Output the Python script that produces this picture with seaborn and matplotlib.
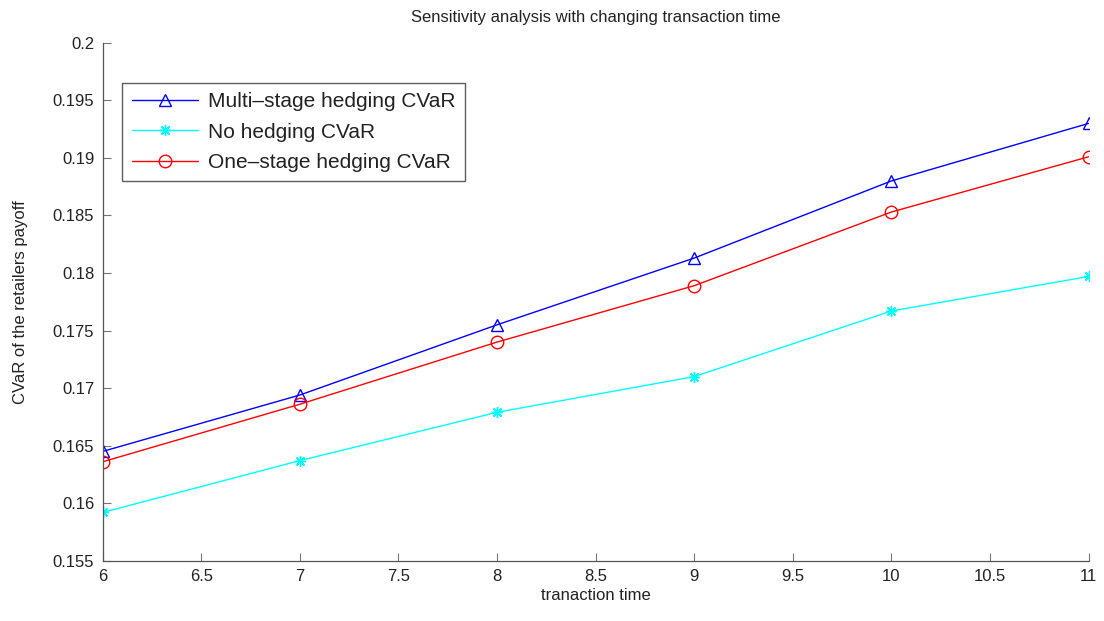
import matplotlib
matplotlib.use("Agg")
import matplotlib.pyplot as plt
import seaborn as sns
import pandas as pd

# Transaction time and CVaR of the retailer's payoff for each hedging strategy
transaction_time = [6, 7, 8, 9, 10, 11]
multi_stage_cvar = [0.1645, 0.1694, 0.1755, 0.1813, 0.1880, 0.1930]
no_hedging_cvar = [0.1592, 0.1637, 0.1679, 0.1710, 0.1767, 0.1797]
one_stage_cvar = [0.1636, 0.1686, 0.1740, 0.1789, 0.1853, 0.1901]

series_names = ["Multi\u2013stage hedging CVaR", "No hedging CVaR", "One\u2013stage hedging CVaR"]
x_ticks = [6, 6.5, 7, 7.5, 8, 8.5, 9, 9.5, 10, 10.5, 11]
y_ticks = [0.155, 0.16, 0.165, 0.17, 0.175, 0.18, 0.185, 0.19, 0.195, 0.2]

df = pd.DataFrame({
    "time": transaction_time * 3,
    "cvar": multi_stage_cvar + no_hedging_cvar + one_stage_cvar,
    "series": [s for s in series_names for _ in transaction_time],
})

sns.set_theme(style="white")
plt.rcParams["font.family"] = ["Liberation Sans", "DejaVu Sans"]

fig = plt.figure(figsize=(11.04, 6.21), dpi=100)
ax = fig.add_axes([0.093, 0.097, 0.893, 0.834])

palette = {series_names[0]: "#0000ff", series_names[1]: "#00ffff", series_names[2]: "#ff0000"}
markers = {series_names[0]: "^", series_names[1]: (8, 2, 0), series_names[2]: "o"}
sizes = {series_names[0]: 9, series_names[1]: 8, series_names[2]: 9}

for name in series_names:
    sub = df[df["series"] == name]
    sns.lineplot(data=sub, x="time", y="cvar", ax=ax, color=palette[name],
                 marker=markers[name], markersize=sizes[name],
                 markerfacecolor="none", markeredgecolor=palette[name],
                 markeredgewidth=1.0, linewidth=1.0, label=name)

ax.set_xlim(6, 11)
ax.set_ylim(0.155, 0.2)
ax.set_xticks(x_ticks)
ax.set_xticklabels([f"{t:g}" for t in x_ticks])
ax.set_yticks(y_ticks)
ax.set_yticklabels([f"{t:g}" for t in y_ticks])
ax.tick_params(bottom=True, left=True, direction="in", length=6, width=0.8,
               color="#777777", labelsize=12, labelcolor="#222222", pad=6)

for side in ("top", "right"):
    ax.spines[side].set_visible(False)
for side in ("left", "bottom"):
    ax.spines[side].set_color("#555555")
    ax.spines[side].set_linewidth(0.9)

ax.set_title("Sensitivity analysis with changing transaction time", fontsize=12,
             color="#222222", pad=15)
ax.set_xlabel("tranaction time", fontsize=12, color="#222222", labelpad=3)
ax.set_ylabel("CVaR of the retailers payoff", fontsize=12, color="#222222", labelpad=18)

leg = ax.legend(loc="upper left", bbox_to_anchor=(0.02, 0.923), fontsize=15,
                frameon=True, fancybox=False, edgecolor="#333333",
                handlelength=3.2, handletextpad=0.45, borderpad=0.45,
                labelspacing=0.55, borderaxespad=0)
leg.get_frame().set_linewidth(1.0)
for t in leg.get_texts():
    t.set_color("#222222")

fig.savefig("out.png", dpi=100, facecolor="white")
